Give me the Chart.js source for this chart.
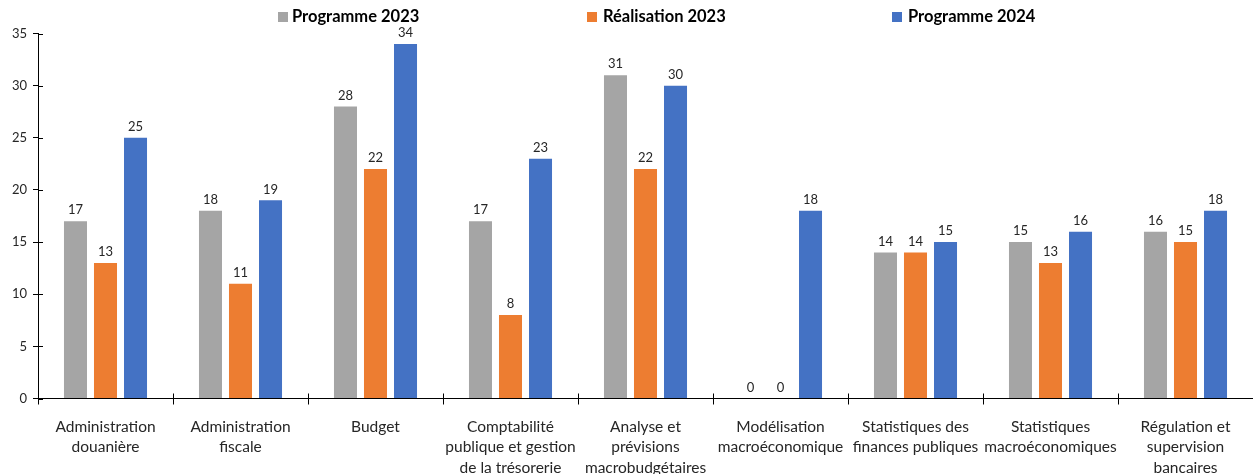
<!DOCTYPE html>
<html>
<head>
<meta charset="utf-8">
<script src="https://cdn.jsdelivr.net/npm/chart.js@4"></script>
<style>
html,body{margin:0;padding:0;background:#fff;}
#wrap{position:relative;width:1253px;height:474px;}
</style>
</head>
<body>
<div id="wrap"><canvas id="c" width="1253" height="474"></canvas></div>
<script>
const categories = [
  ["Administration","douanière"],
  ["Administration","fiscale"],
  ["Budget"],
  ["Comptabilité","publique et gestion","de la trésorerie"],
  ["Analyse et","prévisions","macrobudgétaires"],
  ["Modélisation","macroéconomique"],
  ["Statistiques des","finances publiques"],
  ["Statistiques","macroéconomiques"],
  ["Régulation et","supervision","bancaires"]
];
const seriesNames = ["Programme 2023","Réalisation 2023","Programme 2024"];
const programme2023 = [17,18,28,17,31,0,14,15,16];
const realisation2023 = [13,11,22,8,22,0,14,13,15];
const programme2024 = [25,19,34,23,30,18,15,16,18];
const yTicks = [0,5,10,15,20,25,30,35];

const colors = ["#A5A5A5","#ED7D31","#4472C4"];
const FONT = "Lato, 'Open Sans', sans-serif";

const legendPlugin = {
  id:'customLegend',
  afterDraw(chart){
    const ctx = chart.ctx;
    const items = [
      {box:278, text:292},
      {box:587, text:603},
      {box:892, text:908}
    ];
    ctx.save();
    ctx.font = "bold 16.5px " + FONT;
    ctx.textBaseline = "middle";
    ctx.textAlign = "left";
    items.forEach((it,i)=>{
      ctx.fillStyle = colors[i];
      ctx.fillRect(it.box, 12, 10, 10);
      ctx.fillStyle = "#000";
      ctx.fillText(seriesNames[i], it.text, 17);
    });
    ctx.restore();
  }
};

const valueLabels = {
  id:'valueLabels',
  afterDatasetsDraw(chart){
    const ctx = chart.ctx;
    ctx.save();
    ctx.font = "13px " + FONT;
    ctx.fillStyle = "#262626";
    ctx.textAlign = "center";
    ctx.textBaseline = "middle";
    chart.data.datasets.forEach((ds,di)=>{
      const meta = chart.getDatasetMeta(di);
      meta.data.forEach((bar,i)=>{
        ctx.fillText(String(ds.data[i]), bar.x, bar.y - 11);
      });
    });
    ctx.restore();
  }
};

const innerTicks = {
  id:'innerTicks',
  afterDraw(chart){
    const ctx = chart.ctx;
    const a = chart.chartArea;
    const ys = chart.scales.y;
    ctx.save();
    ctx.strokeStyle = "#000";
    ctx.lineWidth = 1;
    ctx.beginPath();
    yTicks.forEach(v=>{
      const py = Math.round(ys.getPixelForValue(v)) + 0.5;
      ctx.moveTo(a.left, py); ctx.lineTo(a.left + 5, py);
    });
    const n = categories.length;
    const w = (a.right - a.left) / n;
    for(let i=0;i<=n;i++){
      const px = Math.round(a.left + i*w) + 0.5;
      ctx.moveTo(px, a.bottom); ctx.lineTo(px, a.bottom - 5);
    }
    ctx.stroke();
    ctx.restore();
  }
};

new Chart(document.getElementById('c'), {
  type:'bar',
  data:{
    labels: categories,
    datasets:[
      {label:seriesNames[0], data:programme2023, backgroundColor:colors[0]},
      {label:seriesNames[1], data:realisation2023, backgroundColor:colors[1]},
      {label:seriesNames[2], data:programme2024, backgroundColor:colors[2]}
    ]
  },
  options:{
    responsive:false,
    animation:false,
    devicePixelRatio:1,
    layout:{padding:{top:33.5,right:0,left:0,bottom:0}},
    datasets:{bar:{categoryPercentage:0.667, barPercentage:0.767}},
    plugins:{legend:{display:false}, tooltip:{enabled:false}},
    scales:{
      x:{
        offset:true,
        grid:{display:true, drawOnChartArea:false, offset:true, tickLength:6, color:"#000", tickColor:"#000"},
        border:{display:true, color:"#000", width:1},
        ticks:{font:{size:15.5, family:FONT, lineHeight:1.32}, color:"#262626", padding:12, maxRotation:0, autoSkip:false},
        afterFit(s){ s.height = 75.5; }
      },
      y:{
        min:0, max:35,
        afterBuildTicks(s){ s.ticks = yTicks.map(v=>({value:v})); },
        grid:{display:true, drawOnChartArea:false, tickLength:5, color:"#000", tickColor:"#000"},
        border:{display:true, color:"#000", width:1},
        ticks:{font:{size:13, family:FONT}, color:"#262626", padding:6},
        afterFit(s){ s.width = 38; }
      }
    }
  },
  plugins:[legendPlugin, valueLabels, innerTicks]
});
</script>
</body>
</html>
